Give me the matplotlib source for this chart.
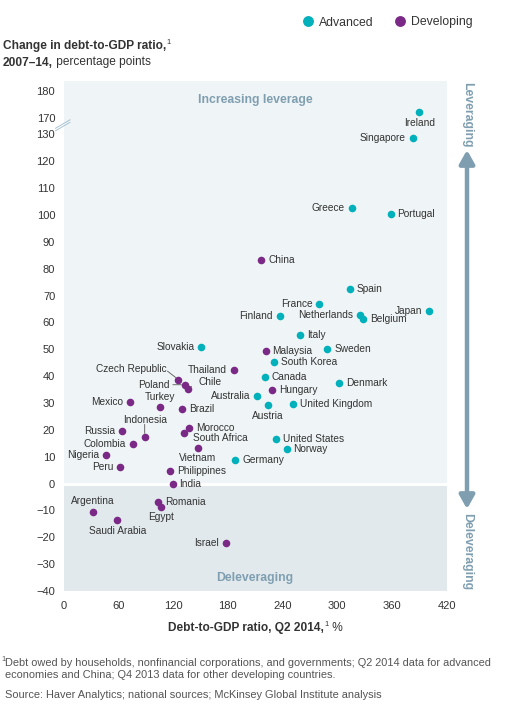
import numpy as np
import matplotlib
matplotlib.use("Agg")
import matplotlib.pyplot as plt
from matplotlib.lines import Line2D
from matplotlib.patches import FancyArrowPatch

plt.rcParams['font.family'] = ['Liberation Sans', 'DejaVu Sans']

# ---------------- data ----------------
adv_names = ["Ireland", "Singapore", "Greece", "Portugal", "Spain", "France", "Finland",
             "Netherlands", "Belgium", "Japan", "Italy", "Sweden", "Slovakia", "South Korea",
             "Canada", "Denmark", "Australia", "Austria", "United Kingdom", "United States",
             "Norway", "Germany"]
adv_x = [390, 383, 316, 358.5, 314, 280.5, 237, 325, 328, 400.5, 259, 289, 151, 230.5,
         220.5, 302, 212.5, 224, 252, 233, 244.5, 188]
adv_y = [172, 128.6, 102.7, 100.2, 72.4, 66.8, 62.3, 62.9, 61.1, 64.4, 55.5, 50.2, 51.0, 45.4,
         39.7, 37.6, 32.5, 29.3, 29.5, 16.6, 12.9, 8.7]

dev_names = ["China", "Malaysia", "Thailand", "Hungary", "Czech Republic", "Poland", "Chile",
             "Mexico", "Turkey", "Brazil", "Indonesia", "Russia", "Colombia", "Nigeria", "Peru",
             "Morocco", "South Africa", "Vietnam", "Philippines", "India", "Argentina",
             "Saudi Arabia", "Romania", "Egypt", "Israel"]
dev_x = [216.5, 221.5, 187, 228.5, 126, 133, 136.5, 73, 105.5, 129.5, 89, 64.5, 76, 47, 62,
         137.5, 132, 147.5, 117, 119.5, 32.5, 59, 104, 106.5, 178]
dev_y = [83.3, 49.2, 42.3, 34.9, 38.7, 36.8, 35.3, 30.4, 28.4, 27.6, 17.4, 19.6, 14.6, 10.7, 6.2,
         20.7, 18.7, 13.4, 4.6, 0.0, -10.4, -13.7, -6.7, -8.8, -22.1]

x_ticks = [0, 60, 120, 180, 240, 300, 360, 420]
y_ticks = [-40, -30, -20, -10, 0, 10, 20, 30, 40, 50, 60, 70, 80, 90, 100, 110, 120, 130, 170, 180]

# ---------------- styles ----------------
TEAL = "#00b0bb"
PURPLE = "#7a2a86"
STEEL = "#7f9fb1"
TXT = "#333333"

# label offsets in pixels (dx, dy, ha)
lab = {
    "Ireland": (0, -11, "center"), "Singapore": (-7, 0, "right"), "Greece": (-7, 0, "right"),
    "Portugal": (7, 0, "left"), "Spain": (7, 0, "left"), "France": (-7, 0, "right"),
    "Finland": (-7, 0, "right"), "Netherlands": (-7, 0, "right"), "Belgium": (7, 0, "left"),
    "Japan": (-7, 0, "right"), "Italy": (7, 0, "left"), "Sweden": (7, 0, "left"),
    "Slovakia": (-7, 0, "right"), "South Korea": (7, 0, "left"), "Canada": (7, 0, "left"),
    "Denmark": (7, 0, "left"), "Australia": (-7, 0, "right"), "Austria": (0, -11, "center"),
    "United Kingdom": (7, 0, "left"), "United States": (7, 0, "left"), "Norway": (7, 0, "left"),
    "Germany": (7, 0, "left"),
    "China": (7, 0, "left"), "Malaysia": (7, 0, "left"), "Thailand": (-7, 0, "right"),
    "Hungary": (7, 0, "left"), "Czech Republic": (-12, 11, "right"), "Poland": (-15, 0, "right"),
    "Chile": (10, 7, "left"), "Mexico": (-7, 0, "right"), "Turkey": (0, 10, "center"),
    "Brazil": (7, 0, "left"), "Indonesia": (0, 17, "center"), "Russia": (-7, 0, "right"),
    "Colombia": (-7, 0, "right"), "Nigeria": (-7, 0, "right"), "Peru": (-7, 0, "right"),
    "Morocco": (7, 0, "left"), "South Africa": (9.5, -5, "left"), "Vietnam": (0, -10, "center"),
    "Philippines": (7, 0, "left"), "India": (7, 0, "left"), "Argentina": (0, 10.5, "center"),
    "Saudi Arabia": (0, -11, "center"), "Romania": (7, 0, "left"), "Egypt": (0, -9.5, "center"),
    "Israel": (-7, 0, "right"),
}
# leader lines in pixel offsets from point: (x0, y0, x1, y1)
leaders = {
    "Czech Republic": (-11, 8.5, -3, 2.5),
    "Poland": (-12, 0, -4, 0),
    "Chile": (3.5, 2.5, 8.5, 7.5),
    "Indonesia": (0, 12.5, 0, 4.5),
    "South Africa": (3.5, -0.8, 9, -3.8),
}

# ---------------- broken y scale ----------------
def fwd(y):
    y = np.asarray(y, dtype=float)
    return np.where(y <= 130, y, np.where(y <= 170, 130 + (y - 130) * 0.155, 136.2 + (y - 170)))

def inv(z):
    z = np.asarray(z, dtype=float)
    return np.where(z <= 130, z, np.where(z <= 136.2, 130 + (z - 130) / 0.155, 170 + (z - 136.2)))

W, H = 515, 726
fig = plt.figure(figsize=(W / 100, H / 100), dpi=100)
ax = fig.add_axes([63.5 / W, (H - 591) / H, 383.2 / W, 510 / H])
ax.set_yscale('function', functions=(fwd, inv))
ax.set_xlim(0, 420)
ax.set_ylim(-40, 183.7)

ax.set_facecolor("#eff4f6")
ax.axhspan(-40, 0, color="#e1e9ed", zorder=0, lw=0)
ax.axhline(0, color="white", lw=2.2, zorder=1)

for s in ax.spines.values():
    s.set_visible(False)
ax.set_xticks(x_ticks)
ax.set_xticklabels([str(v) for v in x_ticks])
ax.set_yticks(y_ticks)
ax.set_yticklabels([str(v) if v >= 0 else "\u2212" + str(-v) for v in y_ticks])
ax.tick_params(length=0, labelsize=8, labelcolor=TXT, pad=6)
ax.tick_params(axis='x', pad=7)
ax.minorticks_off()

ax.scatter(adv_x, adv_y, s=30, color=TEAL, zorder=3, lw=0)
ax.scatter(dev_x, dev_y, s=30, color=PURPLE, zorder=3, lw=0)

for names, xs, ys in [(adv_names, adv_x, adv_y), (dev_names, dev_x, dev_y)]:
    for n, xv, yv in zip(names, xs, ys):
        dx, dy, ha = lab[n]
        ax.annotate(n, (xv, yv), xytext=(dx, dy), textcoords='offset pixels',
                    ha=ha, va='center', fontsize=7.3, color=TXT, zorder=4)
        if n in leaders:
            x0, y0, x1, y1 = leaders[n]
            ax.annotate("", xy=(xv, yv), xytext=(x0, y0), textcoords='offset pixels',
                        arrowprops=dict(arrowstyle='-', color="#555555", lw=0.6,
                                        shrinkA=0, shrinkB=2.5),
                        zorder=4)

# region labels
ax.text(210, 176.5, "Increasing leverage", ha='center', va='center', fontsize=8.8,
        fontweight='bold', color=STEEL)
ax.text(210, -35.2, "Deleveraging", ha='center', va='center', fontsize=8.8,
        fontweight='bold', color=STEEL)

# axis break marks
for off in (0, 2.5):
    fig.add_artist(Line2D([55.5 / W, 70 / W], [1 - (129.5 + off - 1.2) / H, 1 - (121 + off - 1.2) / H],
                          color="#a8c3d3", lw=0.7, transform=fig.transFigure))

# right-side arrow
arr = FancyArrowPatch((467 / W, 1 - 150 / H), (467 / W, 1 - 509 / H),
                      transform=fig.transFigure,
                      arrowstyle='<|-|>,head_length=8,head_width=4.5',
                      color=STEEL, lw=3.2, mutation_scale=1, shrinkA=0, shrinkB=0)
fig.add_artist(arr)
fig.text(467 / W, 1 - 114.5 / H, "Leveraging", rotation=-90, ha='center', va='center',
         fontsize=8.8, fontweight='bold', color=STEEL)
fig.text(467 / W, 1 - 552 / H, "Deleveraging", rotation=-90, ha='center', va='center',
         fontsize=8.8, fontweight='bold', color=STEEL)

# legend
handles = [Line2D([], [], marker='o', ls='', color=TEAL, markersize=6.8),
           Line2D([], [], marker='o', ls='', color=PURPLE, markersize=6.8)]
fig.legend(handles, ["Advanced", "Developing"], loc='center left',
           bbox_to_anchor=(301 / W, 1 - 22.5 / H), ncol=2, frameon=False,
           handletextpad=0.3, columnspacing=1.55, fontsize=8.8, labelcolor=TXT,
           handlelength=1.2, borderaxespad=0, borderpad=0)

# titles
renderer = fig.canvas.get_renderer()

def text_run(x_px, y_px, parts):
    x = x_px
    for s, kw in parts:
        t = fig.text(x / W, 1 - y_px / H, s, ha='left', va='center', **kw)
        x += t.get_window_extent(renderer=renderer).width

bold = dict(fontsize=8.6, fontweight='bold', color=TXT)
reg = dict(fontsize=8.6, color=TXT)
supk = dict(fontsize=5.5, color=TXT)

t1 = fig.text(3 / W, 1 - 46 / H, "Change in debt-to-GDP ratio,", ha='left', va='center', **bold)
bb = t1.get_window_extent(renderer=renderer)
fig.text((3 + bb.width + 0.5) / W, 1 - 42.5 / H, "1", ha='left', va='center', **supk)
text_run(3, 62.5, [("2007\u201314,", bold), (" percentage points", reg)])

# x label
xl = fig.text(0, 1 - 628 / H, "Debt-to-GDP ratio, Q2 2014,", ha='left', va='center', **bold)
wb = xl.get_window_extent(renderer=renderer).width
xs1 = fig.text(0, 1 - 624.5 / H, "1", ha='left', va='center', **supk)
ws = xs1.get_window_extent(renderer=renderer).width
xs2 = fig.text(0, 1 - 628 / H, " %", ha='left', va='center', **reg)
wp = xs2.get_window_extent(renderer=renderer).width
total = wb + 1 + ws + wp
x0 = 255 - total / 2
xl.set_position((x0 / W, 1 - 628 / H))
xs1.set_position(((x0 + wb + 1) / W, 1 - 624.5 / H))
xs2.set_position(((x0 + wb + 1 + ws) / W, 1 - 628 / H))

# footnotes
FN = "#555555"
fig.text(1.5 / W, 1 - 659.5 / H, "1", fontsize=5.2, color=FN, ha='left', va='center')
fig.text(5 / W, 1 - 662.5 / H, "Debt owed by households, nonfinancial corporations, and governments; Q2 2014 data for advanced",
         fontsize=7.95, color=FN, ha='left', va='center')
fig.text(5 / W, 1 - 675.5 / H, "economies and China; Q4 2013 data for other developing countries.",
         fontsize=7.95, color=FN, ha='left', va='center')
fig.text(5 / W, 1 - 695.5 / H, "Source: Haver Analytics; national sources; McKinsey Global Institute analysis",
         fontsize=7.95, color=FN, ha='left', va='center')

fig.savefig("out.png", dpi=100)
